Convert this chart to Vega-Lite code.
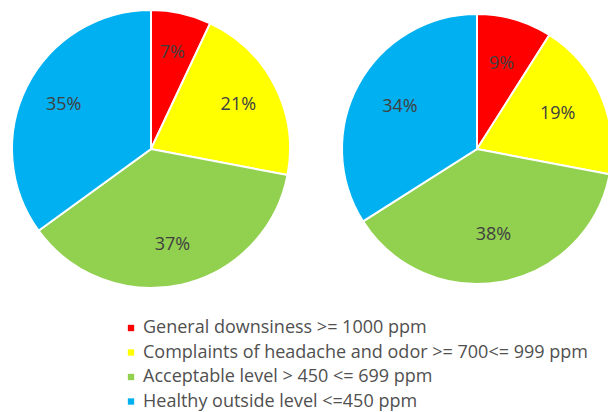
{
  "$schema": "https://vega.github.io/schema/vega-lite/v6.json",
  "padding": {"left": 8, "top": 6, "right": 0, "bottom": 0},
  "background": "white",
  "config": {"view": {"stroke": null}, "font": "Open Sans", "concat": {"spacing": 44}},
  "data": {"values": [
    {"chart": "A", "k": 1, "level": "General downsiness >= 1000 ppm", "value": 0.07},
    {"chart": "A", "k": 2, "level": "Complaints of headache and odor >= 700<= 999 ppm", "value": 0.21},
    {"chart": "A", "k": 3, "level": "Acceptable level > 450 <= 699 ppm", "value": 0.37},
    {"chart": "A", "k": 4, "level": "Healthy outside level <=450 ppm", "value": 0.35},
    {"chart": "B", "k": 1, "level": "General downsiness >= 1000 ppm", "value": 0.09},
    {"chart": "B", "k": 2, "level": "Complaints of headache and odor >= 700<= 999 ppm", "value": 0.19},
    {"chart": "B", "k": 3, "level": "Acceptable level > 450 <= 699 ppm", "value": 0.38},
    {"chart": "B", "k": 4, "level": "Healthy outside level <=450 ppm", "value": 0.34}
  ]},
  "hconcat": [
    {
      "width": 278, "height": 278,
      "transform": [{"filter": "datum.chart === 'A'"}],
      "encoding": {
        "theta": {"field": "value", "type": "quantitative", "stack": true},
        "order": {"field": "k", "type": "quantitative"}
      },
      "layer": [
        {"mark": {"type": "arc", "outerRadius": 139, "stroke": "white", "strokeWidth": 2},
         "encoding": {"color": {"field": "level", "type": "nominal",
            "scale": {"domain": ["General downsiness >= 1000 ppm", "Complaints of headache and odor >= 700<= 999 ppm", "Acceptable level > 450 <= 699 ppm", "Healthy outside level <=450 ppm"],
                      "range": ["#FF0000", "#FFFF00", "#92D050", "#00B0F0"]},
            "legend": {"orient": "none", "legendX": 110, "legendY": 309, "title": null, "direction": "vertical",
              "symbolType": "square", "symbolSize": 40, "symbolStrokeWidth": 0, "labelFontSize": 18,
              "labelColor": "#505050", "rowPadding": 6.5, "labelLimit": 600, "labelOffset": 3}}}},
        {"mark": {"type": "text", "radius": 98, "fontSize": 18, "color": "#404040"},
         "encoding": {"text": {"field": "value", "type": "quantitative", "format": ".0%"}}}
      ]
    },
    {
      "width": 278, "height": 278,
      "transform": [{"filter": "datum.chart === 'B'"}],
      "encoding": {
        "theta": {"field": "value", "type": "quantitative", "stack": true},
        "order": {"field": "k", "type": "quantitative"}
      },
      "layer": [
        {"mark": {"type": "arc", "outerRadius": 135, "stroke": "white", "strokeWidth": 2},
         "encoding": {"color": {"field": "level", "type": "nominal"}}},
        {"mark": {"type": "text", "radius": 88, "fontSize": 18, "color": "#404040"},
         "encoding": {"text": {"field": "value", "type": "quantitative", "format": ".0%"}}}
      ]
    }
  ]
}
